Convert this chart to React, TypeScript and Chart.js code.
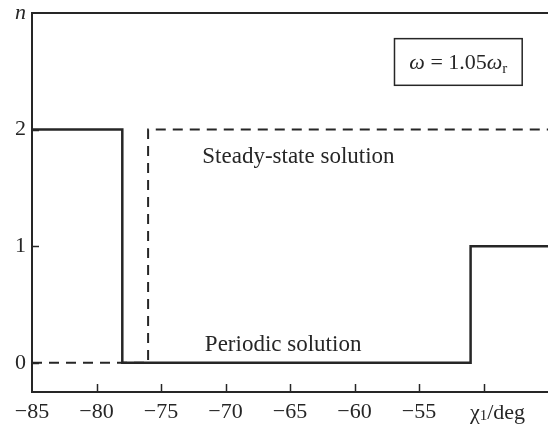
import React, { useEffect, useRef } from "react";
import { Chart, registerables } from "chart.js";

Chart.register(...registerables);

// Periodic solution (solid): step corners
const periodicX = [-85, -78, -51, -45];
const periodicN = [2, 0, 1, 1];
// Steady-state solution (dashed)
const steadyX = [-85, -76, -45];
const steadyN = [0, 2, 2];

const xTicks = [-85, -80, -75, -70, -65, -60, -55, -50, -45];
const xTickLabels = ["−85", "−80", "−75", "−70", "−65", "−60", "−55", "", ""];
const yTicks = [0, 1, 2, 3];
const yTickLabels = ["0", "1", "2", "n"];

const FONT = "'Liberation Serif', 'DejaVu Serif', serif";
const INK = "#262626";
const FS = 22;
const FA = 23;

const annotPlugin = {
  id: "annot",
  afterDraw(chart: any) {
    const { ctx, chartArea } = chart;
    const xs = chart.scales.x;
    const ys = chart.scales.y;
    ctx.save();
    ctx.strokeStyle = INK;
    ctx.lineWidth = 2;
    // top frame line
    ctx.beginPath();
    ctx.moveTo(chartArea.left, chartArea.top);
    ctx.lineTo(chartArea.right, chartArea.top);
    ctx.stroke();
    // inward ticks x
    ctx.lineWidth = 1.5;
    for (const v of xTicks) {
      if (v === -85 || v === -45) continue;
      const px = Math.round(xs.getPixelForValue(v)) + 0.5;
      ctx.beginPath();
      ctx.moveTo(px, chartArea.bottom);
      ctx.lineTo(px, chartArea.bottom - 8);
      ctx.stroke();
    }
    for (const v of [0, 1, 2]) {
      const py = Math.round(ys.getPixelForValue(v)) + 0.5;
      ctx.beginPath();
      ctx.moveTo(chartArea.left, py);
      ctx.lineTo(chartArea.left + 7, py);
      ctx.stroke();
    }
    // axis title on x
    ctx.fillStyle = INK;
    ctx.textBaseline = "alphabetic";
    ctx.textAlign = "left";
    let tx = xs.getPixelForValue(-51.05);
    const ty = chartArea.bottom + 27;
    ctx.font = `${FS}px ${FONT}`;
    ctx.fillText("χ", tx, ty);
    tx += ctx.measureText("χ").width;
    ctx.font = `15px ${FONT}`;
    ctx.fillText("1", tx, ty + 1);
    tx += ctx.measureText("1").width;
    ctx.font = `${FS}px ${FONT}`;
    ctx.fillText("/deg", tx, ty);

    // series labels
    ctx.font = `${FA}px ${FONT}`;
    ctx.fillText("Steady-state solution", xs.getPixelForValue(-71.8), ys.getPixelForValue(1.71));
    ctx.fillText("Periodic solution", xs.getPixelForValue(-71.6), ys.getPixelForValue(0.1));

    // box
    const bx1 = xs.getPixelForValue(-56.9);
    const bx2 = xs.getPixelForValue(-47.0);
    const by1 = ys.getPixelForValue(2.78);
    const by2 = ys.getPixelForValue(2.38);
    ctx.lineWidth = 1.5;
    ctx.strokeRect(bx1, by1, bx2 - bx1, by2 - by1);
    const parts: [string, string, number][] = [
      ["ω", `italic ${FS}px`, 0],
      [" = 1.05", `${FS}px`, 0],
      ["ω", `italic ${FS}px`, 0],
      ["r", "15px", 4],
    ];
    let w = 0;
    for (const [t, f] of parts) {
      ctx.font = `${f} ${FONT}`;
      w += ctx.measureText(t).width;
    }
    let cx = (bx1 + bx2) / 2 - w / 2;
    const cy = (by1 + by2) / 2 + 7;
    for (const [t, f, dy] of parts) {
      ctx.font = `${f} ${FONT}`;
      ctx.fillText(t, cx, cy + dy);
      cx += ctx.measureText(t).width;
    }
    ctx.restore();
  },
};

export default function App() {
  const ref = useRef<HTMLCanvasElement>(null);
  useEffect(() => {
    if (!ref.current) return;
    const chart = new Chart(ref.current, {
      type: "line",
      data: {
        datasets: [
          {
            label: "Periodic solution",
            data: periodicX.map((x, i) => ({ x, y: periodicN[i] })),
            borderColor: INK,
            borderWidth: 2.5,
            pointRadius: 0,
            stepped: "before",
            fill: false,
          },
          {
            label: "Steady-state solution",
            data: steadyX.map((x, i) => ({ x, y: steadyN[i] })),
            borderColor: INK,
            borderWidth: 2,
            borderDash: [10, 7],
            pointRadius: 0,
            stepped: "before",
            fill: false,
          },
        ],
      },
      options: {
        responsive: false,
        animation: false,
        layout: { padding: { top: 13, right: 0, left: 0, bottom: 0 } },
        plugins: { legend: { display: false }, tooltip: { enabled: false } },
        scales: {
          x: {
            type: "linear",
            min: -85,
            max: -45,
            afterBuildTicks: (s: any) => {
              s.ticks = xTicks.map((v) => ({ value: v }));
            },
            afterFit: (s: any) => {
              s.height = 33;
              s.paddingLeft = 0;
              s.paddingRight = 0;
            },
            grid: { display: false, drawTicks: false },
            border: { display: true, color: INK, width: 2 },
            ticks: {
              padding: 7,
              maxRotation: 0,
              autoSkip: false,
              color: INK,
              font: { family: FONT, size: FS },
              callback: (v: any) => {
                const i = xTicks.indexOf(Number(v));
                return i >= 0 ? xTickLabels[i] : "";
              },
            },
          },
          y: {
            type: "linear",
            min: -0.25,
            max: 3,
            afterBuildTicks: (s: any) => {
              s.ticks = yTicks.map((v) => ({ value: v }));
            },
            afterFit: (s: any) => {
              s.width = 32;
              s.paddingTop = 0;
              s.paddingBottom = 0;
            },
            grid: { display: false, drawTicks: false },
            border: { display: true, color: INK, width: 2 },
            ticks: {
              padding: 6,
              autoSkip: false,
              color: INK,
              font: (c: any) => ({
                family: FONT,
                size: FS,
                style: c.tick && c.tick.value === 3 ? "italic" : "normal",
              }),
              callback: (v: any) => {
                const i = yTicks.indexOf(Number(v));
                return i >= 0 ? yTickLabels[i] : "";
              },
            },
          },
        },
      },
      plugins: [annotPlugin],
    } as any);
    return () => chart.destroy();
  }, []);
  return (
    <div style={{ position: "fixed", left: 0, top: 0, width: 548, height: 425, background: "#fff" }}>
      <canvas ref={ref} width={548} height={425} />
    </div>
  );
}
